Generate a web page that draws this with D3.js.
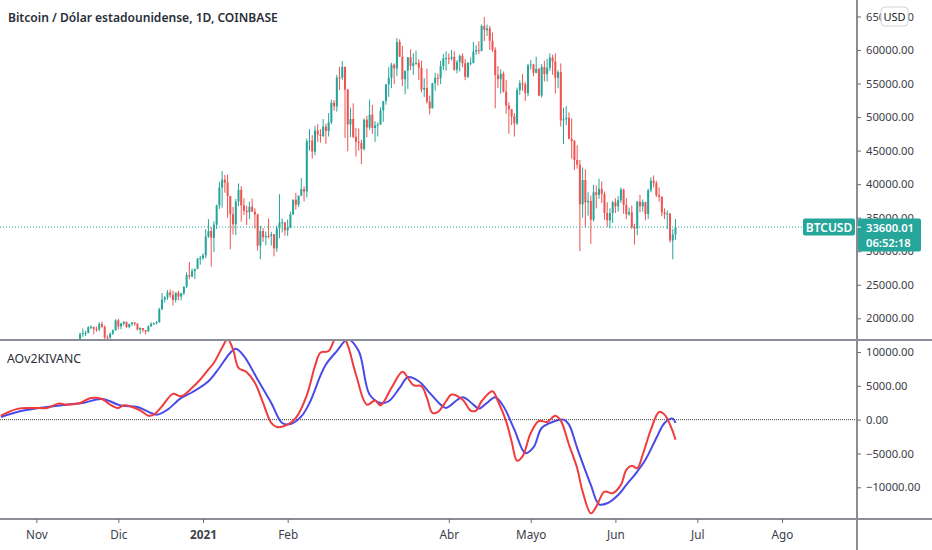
<!DOCTYPE html>
<html><head><meta charset="utf-8">
<script src="https://cdn.jsdelivr.net/npm/d3@7"></script>
<style>
html,body{margin:0;padding:0;background:#fff;}
svg{display:block;font-family:"Noto Sans","Open Sans",sans-serif;}
</style></head>
<body>
<script>
// ---------------- DATA ----------------
const title = "Bitcoin / Dólar estadounidense, 1D, COINBASE";
const indicatorName = "AOv2KIVANC";
const symbol = "BTCUSD";
const lastPrice = 33600.01;
const countdown = "06:52:18";
const candleStart = "2020-11-13"; // daily candles, one per day from this date
const opens = [15700,16290,16070,15960,16720,17660,17800,17820,18680,18720,18420,18370,19160,18730,17150,17140,17720,18180,
19700,18790,19220,19450,18700,19150,19370,19170,18320,18550,18250,18040,18800,19170,19270,19440,21350,22800,23120,23850,23480,22720,23820,23240,23730,24700,26440,26250,27040,27370,28880,
28990,29390,32190,33000,31990,33950,36820,39500,40670,40240,38240,35530,34010,37390,39150,36830,36030,35820,36630,35900,35480,30830,33000,32090,32280,32260,32510,30420,33410,34270,34310,
33110,33520,35510,37670,36930,38290,39260,38900,46400,46480,44850,48000,47400,47180,48580,47930,49200,52150,51610,55900,55880,57490,54100,48900,49710,47060,46300,46150,
45240,49600,48440,50350,48370,48760,48880,50970,52380,54880,55850,57800,57250,61180,59000,55640,56920,58920,57640,58030,58100,57350,54100,54340,52300,51300,55040,55850,55780,57600,58760,
58800,58740,58970,57060,58200,59130,58020,56000,58090,58100,59770,59980,59840,63580,62970,63220,61380,60060,56250,55660,56470,53800,51700,51150,50110,49070,54020,55040,54870,53560,
57700,57830,56600,57200,53200,57470,56400,57360,58870,58280,55860,56700,49500,49700,49900,46760,46430,43600,42900,37000,40600,37300,37500,34700,38800,38400,39300,38500,35700,34600,35700,
37300,36700,37600,39200,36900,35500,35800,33600,33400,37400,36700,37300,35550,39100,40500,40150,38350,38100,35800,35500,35600,31600,32500];
const highs = [16480,16320,16170,16880,17860,18480,18130,18820,18970,18750,18770,19420,19490,18920,17460,17880,18350,19860,
19920,19330,19590,19530,19180,19420,19430,19300,18650,18560,18270,18950,19410,19350,19570,21560,23770,23290,24200,24300,24110,23840,24100,23800,24780,26870,28400,27400,27390,28990,29300,
29680,33300,34780,33600,34450,36940,40380,41950,41380,41400,38240,36600,37800,40100,39700,37900,36800,37400,37850,36400,35600,33800,33450,32950,34880,32900,32550,33800,38500,34900,34330,
34740,35900,37700,38700,38300,40900,39700,46800,48200,47300,48700,48950,48200,49700,49000,50600,52600,52550,56300,57500,58350,57500,54200,51400,52050,48400,48300,46600,
49800,50200,52600,51800,49400,49200,51450,52400,54900,57400,58100,58000,61800,61600,60600,56900,58950,60100,59500,59900,58600,58400,55800,57200,53200,55100,56600,56500,58400,59400,59800,
59500,60000,59800,58500,59300,59500,58650,58200,58900,61200,60700,61300,63800,64900,63800,63600,62600,60400,57600,57100,56800,55500,52200,51200,50600,54400,55500,56400,55200,57950,
58500,57950,59000,57300,57900,58400,58700,59500,59300,59500,57000,58000,51400,51600,50700,49800,46600,45800,43600,42500,42200,38800,38300,39900,39800,40800,40400,38900,37300,36400,37500,
37900,38200,39500,39300,37900,36500,36800,34100,37500,38400,37700,37400,39300,41000,41300,40500,39500,38200,36400,36100,35700,33300,34800];
const lows = [15440,15710,15800,15880,16560,17220,17350,17770,18360,17630,18000,18060,18580,16330,16510,16890,17530,18180,
18330,18340,18930,18580,18510,18860,18910,18210,17640,17910,17570,18020,18720,19000,19070,19300,21230,22360,22770,23080,21900,22350,22700,22700,23450,24520,25820,26100,25850,27330,27990,
28660,28960,32000,27700,29900,33300,36300,36500,38720,35000,30300,32500,32400,36700,34400,35400,33900,34800,35900,33400,30100,28800,31400,30900,31900,30830,29240,29900,31950,32800,32300,
32300,33440,35380,36200,36600,38200,37400,38000,45000,43800,44300,46300,46200,47000,46000,47100,48950,50950,50800,54000,55500,46900,44900,47000,46850,44100,45000,43000,
45000,47000,48100,47500,46300,47100,48880,49300,51850,53000,54300,54900,56100,58950,54600,53400,54200,57000,56300,57800,55500,53700,53000,52000,50400,51300,53950,54700,54900,57000,56900,
57900,58450,56900,56500,56800,57400,55500,55800,57700,58000,59300,59400,59800,61300,62100,60000,59700,51300,54300,53500,53650,50500,47500,48800,47100,48800,53300,53900,52400,53100,
57100,56100,56500,53100,52900,55300,55300,56900,56300,53500,54300,48600,46000,48800,46700,43800,42100,42300,30000,35000,33500,35300,31100,34400,36400,37800,37200,34700,33600,33400,34200,
35700,35900,37200,35600,34800,35300,33300,31000,32400,35800,35900,34600,34800,38800,39500,38100,37400,35200,34800,33300,31300,28800,31700];
const closes = [16290,16070,15960,16720,17660,17800,17820,18680,18720,18420,18370,19160,18730,17150,17140,17720,18180,19700,
18790,19220,19450,18700,19150,19370,19170,18320,18550,18250,18040,18800,19170,19270,19440,21350,22800,23120,23850,23480,22720,23820,23240,23730,24700,26440,26250,27040,27370,28880,28990,
29390,32190,33000,31990,33950,36820,39500,40670,40240,38240,35530,34010,37390,39150,36830,36030,35820,36630,35900,35480,30830,33000,32090,32280,32260,32510,30420,33410,34270,34310,33110,
33520,35510,37670,36930,38290,39260,38900,46400,46480,44850,48000,47400,47180,48580,47930,49200,52150,51610,55900,55880,57490,54100,48900,49710,47060,46300,46150,45240,
49600,48440,50350,48370,48760,48880,50970,52380,54880,55850,57800,57250,61180,59000,55640,56920,58920,57640,58030,58100,57350,54100,54340,52300,51300,55040,55850,55780,57600,58760,58800,
58740,58970,57060,58200,59130,58020,56000,58090,58100,59770,59980,59840,63580,62970,63220,61380,60060,56250,55660,56470,53800,51700,51150,50110,49070,54020,55040,54870,53560,57700,
57830,56600,57200,53200,57470,56400,57360,58870,58280,55860,56700,49500,49700,49900,46760,46430,43600,42900,37000,40600,37300,37500,34700,38800,38400,39300,38500,35700,34600,35700,37300,
36700,37600,39200,36900,35500,35800,33600,33400,37400,36700,37300,35550,39100,40500,40150,38350,38100,35800,35500,35600,31600,32500,33600];

const redDates = ["2020-10-19","2020-10-25","2020-10-30","2020-11-05","2020-11-09","2020-11-12","2020-11-17","2020-11-21","2020-11-25","2020-11-28","2020-12-01","2020-12-03","2020-12-06","2020-12-09","2020-12-12","2020-12-14","2020-12-17","2020-12-21","2020-12-24","2020-12-28","2020-12-31","2021-01-03","2021-01-05","2021-01-08","2021-01-10","2021-01-12","2021-01-14","2021-01-17","2021-01-20","2021-01-23","2021-01-26","2021-01-28","2021-02-01","2021-02-04","2021-02-08","2021-02-11","2021-02-13","2021-02-16","2021-02-19","2021-02-21","2021-02-23","2021-02-26","2021-03-02","2021-03-05","2021-03-07","2021-03-11","2021-03-15","2021-03-17","2021-03-19","2021-03-22","2021-03-24","2021-03-26","2021-03-28","2021-03-31","2021-04-02","2021-04-06","2021-04-09","2021-04-11","2021-04-13","2021-04-17","2021-04-19","2021-04-22","2021-04-24","2021-04-26","2021-04-28","2021-05-01","2021-05-04","2021-05-07","2021-05-10","2021-05-12","2021-05-15","2021-05-18","2021-05-20","2021-05-23","2021-05-25","2021-05-28","2021-05-31","2021-06-03","2021-06-05","2021-06-07","2021-06-09","2021-06-11","2021-06-14","2021-06-17","2021-06-19","2021-06-22","2021-06-23"];
const redValues = [590,1590,1730,1730,2370,2220,2470,3210,3060,2220,1730,2120,1880,1380,590,740,1980,3810,3460,4700,5930,7420,8410,10640,11900,10390,7670,7020,5450,2470,-490,-1080,-740,250,3600,7910,9900,10140,12500,12600,11000,6680,2220,2820,2120,4700,7070,6180,5090,4940,3210,990,1140,2720,3710,2970,1340,1340,2720,4200,2720,-250,-3220,-6080,-5440,-1980,-200,-340,590,-150,-3710,-7170,-10640,-13840,-12860,-10640,-10880,-9640,-7420,-6830,-7170,-5190,-1480,1140,740,-1730,-2970];
const blueDates = ["2020-10-19","2020-10-26","2020-11-02","2020-11-12","2020-11-18","2020-11-25","2020-12-02","2020-12-08","2020-12-15","2020-12-19","2020-12-24","2020-12-28","2021-01-03","2021-01-07","2021-01-11","2021-01-13","2021-01-16","2021-01-21","2021-01-26","2021-01-30","2021-02-02","2021-02-06","2021-02-09","2021-02-13","2021-02-15","2021-02-19","2021-02-23","2021-02-27","2021-03-03","2021-03-07","2021-03-10","2021-03-14","2021-03-17","2021-03-21","2021-03-25","2021-03-29","2021-03-31","2021-04-06","2021-04-10","2021-04-12","2021-04-15","2021-04-18","2021-04-21","2021-04-25","2021-04-29","2021-05-02","2021-05-05","2021-05-09","2021-05-13","2021-05-15","2021-05-18","2021-05-23","2021-05-26","2021-05-29","2021-06-02","2021-06-05","2021-06-09","2021-06-12","2021-06-16","2021-06-19","2021-06-22","2021-06-23"];
const blueValues = [400,1230,1730,2220,2470,3060,2080,1880,740,1480,3210,4050,5680,7670,9900,10490,9400,5930,2470,-490,-640,490,2470,6500,8160,10140,11870,10140,3710,2470,2720,4700,6280,5680,3960,2220,1730,3310,2220,1630,2470,3310,1980,-1480,-4940,-4100,-1240,-340,0,-740,-4200,-9640,-12510,-12360,-11130,-9640,-7670,-5930,-2720,-490,150,-490];

const priceTicks = [20000,25000,30000,35000,40000,45000,50000,55000,60000,65000];
const oscTicks = [10000,5000,0,-5000,-10000];
const timeTickDates = ["2020-11-01","2020-12-01","2021-01-01","2021-02-01","2021-04-01","2021-05-01","2021-06-01","2021-07-01","2021-08-01"];
const timeTickLabels = ["Nov","Dic","2021","Feb","Abr","Mayo","Jun","Jul","Ago"];

// ---------------- LAYOUT ----------------
const W = 932, H = 550;
const axisX = 857, paneSep = 340, paneBottom = 519;
const UP = "#26a69a", DOWN = "#ef5350";
const parse = d3.utcParse("%Y-%m-%d");

const svg = d3.select("body").append("svg").attr("width", W).attr("height", H);
svg.append("rect").attr("width", W).attr("height", H).attr("fill", "#fff");

const x = d3.scaleUtc().domain([parse("2021-01-01"), parse("2021-08-01")]).range([203, 782]);
const yP = d3.scaleLinear().domain([20000, 60000]).range([318.3, 50]);
const yO = d3.scaleLinear().domain([-10000, 10000]).range([487.3, 352]);

const defs = svg.append("defs");
defs.append("clipPath").attr("id", "clipTop").append("rect").attr("x", 0).attr("y", 0).attr("width", axisX).attr("height", paneSep);
defs.append("clipPath").attr("id", "clipOsc").append("rect").attr("x", 0).attr("y", paneSep).attr("width", axisX).attr("height", paneBottom - paneSep);

// candles
const start = parse(candleStart);
const candles = closes.map((c, i) => ({ date: d3.utcDay.offset(start, i), o: opens[i], h: highs[i], l: lows[i], c }));
const gC = svg.append("g").attr("clip-path", "url(#clipTop)");
gC.selectAll("line.wick").data(candles).join("line")
  .attr("x1", d => x(d.date)).attr("x2", d => x(d.date))
  .attr("y1", d => yP(d.h)).attr("y2", d => yP(d.l))
  .attr("stroke", d => d.c >= d.o ? UP : DOWN).attr("stroke-width", 1);
gC.selectAll("rect.body").data(candles).join("rect")
  .attr("x", d => x(d.date) - 1).attr("width", 2)
  .attr("y", d => yP(Math.max(d.o, d.c)))
  .attr("height", d => Math.max(1, Math.abs(yP(d.o) - yP(d.c))))
  .attr("fill", d => d.c >= d.o ? UP : DOWN);

// last price dotted line
svg.append("line").attr("x1", 0).attr("x2", 803).attr("y1", yP(lastPrice)).attr("y2", yP(lastPrice))
  .attr("stroke", UP).attr("stroke-width", 1).attr("stroke-dasharray", "1,2");

// oscillator
const gO = svg.append("g").attr("clip-path", "url(#clipOsc)");
gO.append("line").attr("x1", 0).attr("x2", axisX).attr("y1", yO(0)).attr("y2", yO(0))
  .attr("stroke", "#444").attr("stroke-width", 1).attr("stroke-dasharray", "1,1");
const line = d3.line().x(d => x(d[0])).y(d => yO(d[1])).curve(d3.curveCatmullRom.alpha(0.5));
gO.append("path").datum(blueDates.map((d, i) => [parse(d), blueValues[i]]))
  .attr("d", line).attr("fill", "none").attr("stroke", "#4a4ae8").attr("stroke-width", 2);
gO.append("path").datum(redDates.map((d, i) => [parse(d), redValues[i]]))
  .attr("d", line).attr("fill", "none").attr("stroke", "#f03c3c").attr("stroke-width", 2);

// pane borders
const borderCol = "#8a8d96";
svg.append("line").attr("x1", 0).attr("x2", W).attr("y1", paneSep).attr("y2", paneSep).attr("stroke", borderCol).attr("stroke-width", 2);
svg.append("line").attr("x1", 0).attr("x2", W).attr("y1", paneBottom).attr("y2", paneBottom).attr("stroke", borderCol).attr("stroke-width", 2);
svg.append("line").attr("x1", axisX).attr("x2", axisX).attr("y1", 0).attr("y2", H).attr("stroke", borderCol).attr("stroke-width", 2);

// axes
const fmt = d3.format(".2f");
const axisText = "#3b3e48";
const gPA = svg.append("g").attr("transform", `translate(${axisX},0)`)
  .call(d3.axisRight(yP).tickValues(priceTicks).tickFormat(fmt).tickSize(4).tickPadding(5));
const gOA = svg.append("g").attr("transform", `translate(${axisX},0)`)
  .call(d3.axisRight(yO).tickValues(oscTicks).tickFormat(fmt).tickSize(4).tickPadding(5));
const tickDates = timeTickDates.map(parse);
const gTA = svg.append("g").attr("transform", `translate(0,${paneBottom})`)
  .call(d3.axisBottom(x).tickValues(tickDates).tickFormat((d, i) => timeTickLabels[i]).tickSize(4).tickPadding(8));
[gPA, gOA, gTA].forEach(g => {
  g.select(".domain").remove();
  g.selectAll(".tick line").attr("stroke", "#6a6d78");
  g.selectAll(".tick text").attr("fill", axisText).style("font-family", '"Noto Sans",sans-serif').style("font-size", "12px");
});
gTA.selectAll(".tick text").filter((d, i) => timeTickLabels[i] === "2021").style("font-weight", "700");

// fit price-label font to reference width
function fit(sel, target) {
  const n = sel.node(); const fs = parseFloat(getComputedStyle(n).fontSize);
  const w = n.getComputedTextLength(); return fs * target / w;
}
const sample = gPA.selectAll(".tick text").filter(d => d === 60000);
const pfs = fit(sample, 48);
gPA.selectAll(".tick text").style("font-size", pfs + "px");
gOA.selectAll(".tick text").style("font-size", pfs + "px");
gTA.selectAll(".tick text").style("font-size", Math.min(12.5, pfs + 0.5) + "px");

// USD button
svg.append("rect").attr("x", 881).attr("y", 7).attr("width", 27).attr("height", 19).attr("rx", 4)
  .attr("fill", "#fff").attr("stroke", "#d1d4dc");
svg.append("text").attr("x", 894.5).attr("y", 20.5).attr("text-anchor", "middle")
  .attr("fill", "#131722").style("font-size", "11px").text("USD");

// last price labels
const ly = yP(lastPrice);
svg.append("rect").attr("x", 803).attr("y", ly - 8.5).attr("width", 52).attr("height", 17).attr("rx", 2).attr("fill", UP);
svg.append("text").attr("x", 829).attr("y", ly + 4.5).attr("text-anchor", "middle").attr("fill", "#fff")
  .style("font-size", "12px").style("font-weight", "600").text(symbol);
svg.append("rect").attr("x", 858).attr("y", ly - 8.5).attr("width", 63).attr("height", 33).attr("rx", 2).attr("fill", UP);
svg.append("line").attr("x1", 857).attr("x2", 861).attr("y1", ly).attr("y2", ly).attr("stroke", "#fff");
svg.append("text").attr("x", 866).attr("y", ly + 4.5).attr("fill", "#fff").style("font-size", pfs + "px").style("font-weight", "600").text(fmt(lastPrice));
svg.append("text").attr("x", 866).attr("y", ly + 20).attr("fill", "#fff").style("font-size", pfs + "px").style("font-weight", "600").text(countdown);

// titles
const t = svg.append("text").attr("x", 8).attr("y", 22).attr("fill", "#2a2e39")
  .style("font-size", "13px").style("font-weight", "600").text(title);
t.style("font-size", fit(t, 270) + "px");
const ind = svg.append("text").attr("x", 7).attr("y", 363).attr("fill", "#2a2e39")
  .style("font-size", "12px").text(indicatorName);
ind.style("font-size", fit(ind, 74) + "px");
</script>
</body></html>
